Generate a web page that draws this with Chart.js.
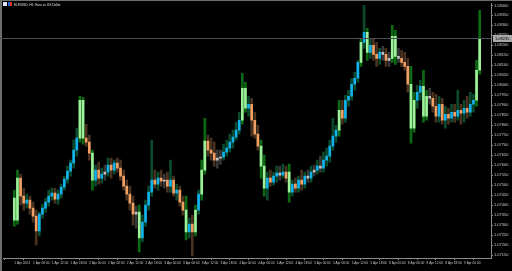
<!DOCTYPE html>
<html>
<head>
<meta charset="utf-8">
<script src="https://cdn.jsdelivr.net/npm/chart.js@4.4.1/dist/chart.umd.min.js"></script>
<style>
  html, body { margin: 0; padding: 0; background: #000; }
  #wrap { position: relative; width: 512px; height: 271px; overflow: hidden; }
  #chart { position: absolute; left: 0; top: 0; }
  #title {
    position: absolute; left: 3px; top: 2px; z-index: 2;
    display: flex; align-items: center;
    color: #e0e0e0; font: 6.4px "Liberation Sans", Arial, sans-serif;
    transform: scale(0.5); transform-origin: 0 0; white-space: nowrap;
  }
  #title .ic { display: inline-block; width: 8px; height: 8px; margin-right: 2px; }
  #title .a { background: #dfe6f5; }
  #title .b { background: linear-gradient(90deg, #2a5fd8 50%, #e0322a 50%); margin-right: 4px; }
</style>
</head>
<body>
<div id="wrap">
  <div id="title"><span class="ic a"></span><span class="ic b"></span><span>EURUSD, H1: Euro vs US Dollar</span></div>
  <canvas id="chart" width="512" height="271"></canvas>
</div>
<script>
// hourly candles
const opens = [
    1.07435, 1.07325, 1.07535, 1.07445, 1.07410, 1.07425, 1.07385, 1.07345, 1.07270, 1.07355,
    1.07385, 1.07415, 1.07445, 1.07460, 1.07430, 1.07455, 1.07490, 1.07530, 1.07570, 1.07610,
    1.07675, 1.07735, 1.07925, 1.07735, 1.07715, 1.07660, 1.07525, 1.07575, 1.07535, 1.07555,
    1.07565, 1.07600, 1.07575, 1.07610, 1.07585, 1.07545, 1.07495, 1.07455, 1.07410, 1.07355,
    1.07365, 1.07235, 1.07315, 1.07400, 1.07465, 1.07525, 1.07505, 1.07535, 1.07520, 1.07525,
    1.07495, 1.07525, 1.07460, 1.07475, 1.07415, 1.07375, 1.07265, 1.07305, 1.07265, 1.07375,
    1.07455, 1.07575, 1.07720, 1.07675, 1.07660, 1.07625, 1.07635, 1.07640, 1.07665, 1.07685,
    1.07715, 1.07740, 1.07775, 1.07825, 1.07985, 1.07885, 1.07905, 1.07825, 1.07755, 1.07695,
    1.07595, 1.07485, 1.07535, 1.07515, 1.07545, 1.07560, 1.07550, 1.07565, 1.07565, 1.07465,
    1.07505, 1.07485, 1.07525, 1.07505, 1.07545, 1.07535, 1.07565, 1.07575, 1.07595, 1.07585,
    1.07625, 1.07645, 1.07695, 1.07745, 1.07775, 1.07875, 1.07835, 1.07925, 1.07945, 1.08005,
    1.08035, 1.08115, 1.08215, 1.08265, 1.08165, 1.08200, 1.08155, 1.08135, 1.08165, 1.08155,
    1.08125, 1.08135, 1.08245, 1.08145, 1.08135, 1.08115, 1.08095, 1.08005, 1.07785, 1.07925,
    1.07965, 1.07995, 1.07845, 1.07945, 1.07935, 1.07895, 1.07845, 1.07905, 1.07825, 1.07855,
    1.07835, 1.07865, 1.07845, 1.07875, 1.07860, 1.07885, 1.07865, 1.07905, 1.07925, 1.08075
];
const highs = [
    1.07475, 1.07575, 1.07555, 1.07485, 1.07455, 1.07445, 1.07415, 1.07375, 1.07365, 1.07405,
    1.07435, 1.07475, 1.07485, 1.07485, 1.07475, 1.07505, 1.07545, 1.07595, 1.07625, 1.07725,
    1.07785, 1.07945, 1.07940, 1.07805, 1.07750, 1.07675, 1.07600, 1.07615, 1.07585, 1.07600,
    1.07635, 1.07635, 1.07625, 1.07635, 1.07625, 1.07575, 1.07525, 1.07495, 1.07445, 1.07395,
    1.07400, 1.07350, 1.07425, 1.07495, 1.07725, 1.07575, 1.07565, 1.07575, 1.07555, 1.07565,
    1.07625, 1.07545, 1.07505, 1.07495, 1.07445, 1.07445, 1.07335, 1.07350, 1.07400, 1.07475,
    1.07625, 1.07835, 1.07750, 1.07735, 1.07715, 1.07675, 1.07675, 1.07705, 1.07725, 1.07755,
    1.07775, 1.07815, 1.07865, 1.08060, 1.08015, 1.07945, 1.07935, 1.07865, 1.07800, 1.07725,
    1.07650, 1.07565, 1.07575, 1.07565, 1.07595, 1.07595, 1.07605, 1.07595, 1.07605, 1.07525,
    1.07535, 1.07545, 1.07575, 1.07565, 1.07575, 1.07595, 1.07600, 1.07625, 1.07645, 1.07665,
    1.07685, 1.07725, 1.07835, 1.07800, 1.07925, 1.07925, 1.07950, 1.07975, 1.08035, 1.08065,
    1.08125, 1.08235, 1.08400, 1.08285, 1.08235, 1.08235, 1.08215, 1.08185, 1.08195, 1.08185,
    1.08165, 1.08300, 1.08275, 1.08185, 1.08175, 1.08165, 1.08135, 1.08095, 1.07965, 1.08000,
    1.08025, 1.08075, 1.07975, 1.07985, 1.07965, 1.07955, 1.07945, 1.07935, 1.07895, 1.07885,
    1.07905, 1.07905, 1.07975, 1.07905, 1.07925, 1.07945, 1.07965, 1.07955, 1.08125, 1.08375
];
const lows = [
    1.07295, 1.07305, 1.07400, 1.07375, 1.07385, 1.07355, 1.07315, 1.07200, 1.07245, 1.07335,
    1.07365, 1.07395, 1.07425, 1.07410, 1.07405, 1.07435, 1.07475, 1.07510, 1.07545, 1.07585,
    1.07645, 1.07715, 1.07705, 1.07695, 1.07625, 1.07475, 1.07495, 1.07505, 1.07510, 1.07525,
    1.07545, 1.07535, 1.07555, 1.07565, 1.07525, 1.07475, 1.07425, 1.07375, 1.07300, 1.07285,
    1.07165, 1.07215, 1.07295, 1.07375, 1.07445, 1.07485, 1.07475, 1.07495, 1.07485, 1.07465,
    1.07465, 1.07445, 1.07425, 1.07395, 1.07350, 1.07225, 1.07235, 1.07145, 1.07245, 1.07355,
    1.07425, 1.07555, 1.07645, 1.07625, 1.07595, 1.07585, 1.07605, 1.07625, 1.07645, 1.07665,
    1.07685, 1.07725, 1.07755, 1.07805, 1.07865, 1.07845, 1.07745, 1.07735, 1.07675, 1.07535,
    1.07445, 1.07425, 1.07495, 1.07500, 1.07515, 1.07525, 1.07535, 1.07515, 1.07415, 1.07445,
    1.07465, 1.07465, 1.07475, 1.07485, 1.07515, 1.07515, 1.07545, 1.07555, 1.07565, 1.07565,
    1.07595, 1.07615, 1.07675, 1.07715, 1.07745, 1.07805, 1.07815, 1.07895, 1.07925, 1.07975,
    1.08015, 1.08095, 1.08185, 1.08125, 1.08135, 1.08125, 1.08095, 1.08105, 1.08125, 1.08095,
    1.08095, 1.08115, 1.08105, 1.08115, 1.08095, 1.08075, 1.07965, 1.07710, 1.07765, 1.07885,
    1.07925, 1.07815, 1.07825, 1.07905, 1.07865, 1.07815, 1.07815, 1.07805, 1.07785, 1.07805,
    1.07815, 1.07815, 1.07825, 1.07805, 1.07815, 1.07835, 1.07845, 1.07865, 1.07895, 1.08055
];
const closes = [
    1.07325, 1.07535, 1.07445, 1.07410, 1.07425, 1.07385, 1.07345, 1.07270, 1.07355, 1.07385,
    1.07415, 1.07445, 1.07460, 1.07430, 1.07455, 1.07490, 1.07530, 1.07570, 1.07610, 1.07675,
    1.07735, 1.07925, 1.07735, 1.07715, 1.07660, 1.07525, 1.07575, 1.07535, 1.07555, 1.07565,
    1.07600, 1.07575, 1.07610, 1.07585, 1.07545, 1.07495, 1.07455, 1.07410, 1.07355, 1.07365,
    1.07235, 1.07315, 1.07400, 1.07465, 1.07525, 1.07505, 1.07535, 1.07520, 1.07525, 1.07495,
    1.07525, 1.07460, 1.07475, 1.07415, 1.07375, 1.07265, 1.07305, 1.07265, 1.07375, 1.07455,
    1.07575, 1.07720, 1.07675, 1.07660, 1.07625, 1.07635, 1.07640, 1.07665, 1.07685, 1.07715,
    1.07740, 1.07775, 1.07825, 1.07985, 1.07885, 1.07905, 1.07825, 1.07755, 1.07695, 1.07595,
    1.07485, 1.07535, 1.07515, 1.07545, 1.07560, 1.07550, 1.07565, 1.07535, 1.07465, 1.07505,
    1.07485, 1.07525, 1.07505, 1.07545, 1.07535, 1.07565, 1.07575, 1.07595, 1.07585, 1.07625,
    1.07645, 1.07695, 1.07745, 1.07775, 1.07875, 1.07835, 1.07925, 1.07945, 1.08005, 1.08035,
    1.08115, 1.08215, 1.08265, 1.08165, 1.08200, 1.08155, 1.08135, 1.08165, 1.08155, 1.08125,
    1.08135, 1.08245, 1.08145, 1.08135, 1.08115, 1.08095, 1.08005, 1.07785, 1.07925, 1.07965,
    1.07995, 1.07845, 1.07945, 1.07935, 1.07895, 1.07845, 1.07905, 1.07825, 1.07855, 1.07835,
    1.07865, 1.07845, 1.07875, 1.07860, 1.07885, 1.07865, 1.07905, 1.07925, 1.08075, 1.08235
];

// one label every 6 bars
const timeLabels = [
    '1 Apr 2024', '1 Apr 06:00', '1 Apr 12:00', '1 Apr 18:00', '2 Apr 00:00',
    '2 Apr 06:00', '2 Apr 12:00', '2 Apr 18:00', '3 Apr 00:00', '3 Apr 06:00',
    '3 Apr 12:00', '3 Apr 18:00', '4 Apr 00:00', '4 Apr 06:00', '4 Apr 12:00',
    '4 Apr 18:00', '5 Apr 00:00', '5 Apr 06:00', '5 Apr 12:00', '5 Apr 18:00',
    '8 Apr 00:00', '8 Apr 06:00', '8 Apr 12:00', '8 Apr 18:00', '9 Apr 00:00'
];
const priceTicks = [
    1.0715, 1.0720, 1.0725, 1.0730, 1.0735, 1.0740, 1.0745, 1.0750, 1.0755, 1.0760,
    1.0765, 1.0770, 1.0775, 1.0780, 1.0785, 1.0790, 1.0795, 1.0800, 1.0805, 1.0810,
    1.0815, 1.0820, 1.0825, 1.0830, 1.0835, 1.0840
];
const barsPerLabel = 6;

// candle colours: big body green, tiny body silver, else up cyan / down orange
function candleKind(i) {
    const body = closes[i] - opens[i];
    if (Math.abs(body) >= 0.00095) return 'big';
    if (Math.abs(body) < 0.00012) return 'flat';
    return body > 0 ? 'up' : 'down';
}
const bodyColors = { big: '#9ef09a', flat: '#c4c4c4', up: '#12b2ec', down: '#f0a062' };
const wickColors = { big: '#0d6a14', flat: '#383838', up: '#0b4a2c', down: '#4a3220' };

const kinds = closes.map((c, i) => candleKind(i));

const priceLine = {
    id: 'priceLine',
    beforeDraw(chart) {
        const c = chart.ctx;
        c.save();
        c.fillStyle = '#000';
        c.fillRect(0, 0, chart.width, chart.height);
        c.fillStyle = '#6e6e6e';
        c.fillRect(0, 0, chart.width, 1);
        c.fillRect(0, 0, 2, chart.height);
        c.restore();
    },
    afterDatasetsDraw(chart) {
        const c = chart.ctx;
        const area = chart.chartArea;
        const last = closes[closes.length - 1];
        const y = Math.round(chart.scales.y.getPixelForValue(last)) + 0.5;
        c.save();
        c.strokeStyle = '#4b5057';
        c.lineWidth = 1;
        c.beginPath();
        c.moveTo(0, y);
        c.lineTo(area.right, y);
        c.stroke();
        c.fillStyle = '#a8a8a8';
        c.fillRect(area.right + 2, y - 3.5, 20, 7);
        c.fillStyle = '#000';
        c.font = '4px "Liberation Sans"';
        c.textBaseline = 'middle';
        c.fillText(last.toFixed(5), area.right + 4, y + 0.3);
        c.restore();
    }
};

const ctx = document.getElementById('chart').getContext('2d');
const chart = new Chart(ctx, {
    type: 'bar',
    data: {
        datasets: [{
            label: 'wick',
            data: closes.map((c, i) => ({ x: i, y: [lows[i], highs[i]] })),
            backgroundColor: kinds.map(k => wickColors[k]),
            barThickness: 2,
            grouped: false,
            order: 2
        },
        {
            label: 'body',
            data: closes.map((c, i) => ({ x: i, y: [opens[i], c] })),
            backgroundColor: kinds.map(k => bodyColors[k]),
            barThickness: 2,
            minBarLength: 1,
            grouped: false,
            order: 1
        }]
    },
    options: {
        responsive: false,
        animation: false,
        devicePixelRatio: 1,
        layout: { padding: { left: 3, top: 3, right: 0, bottom: 0 } },
        plugins: { legend: { display: false }, tooltip: { enabled: false } },
        scales: {
            x: {
                type: 'linear',
                min: -0.5,
                max: closes.length - 0.5,
                afterBuildTicks: scale => {
                    scale.ticks = timeLabels.map((t, k) => ({ value: k * barsPerLabel }));
                },
                afterFit: scale => { scale.height = 13; },
                grid: { display: true, drawOnChartArea: false, drawTicks: true, tickLength: 2, color: '#8a8a8a' },
                border: { display: true, color: '#8a8a8a' },
                ticks: {
                    autoSkip: false,
                    maxRotation: 0,
                    align: 'start',
                    padding: 1,
                    color: '#c8c8c8',
                    font: { family: 'Liberation Sans', size: 3.2 },
                    callback: (value, index) => timeLabels[index]
                }
            },
            y: {
                position: 'right',
                min: 1.07135,
                max: 1.08410,
                afterBuildTicks: scale => {
                    scale.ticks = priceTicks.map(v => ({ value: v }));
                },
                afterFit: scale => { scale.width = 21; },
                grid: { display: true, drawOnChartArea: false, drawTicks: true, tickLength: 2, color: '#8a8a8a' },
                border: { display: true, color: '#8a8a8a' },
                ticks: {
                    padding: 1,
                    color: '#c8c8c8',
                    font: { family: 'Liberation Sans', size: 4 },
                    callback: value => value.toFixed(5)
                }
            }
        }
    },
    plugins: [priceLine]
});
</script>
</body>
</html>
